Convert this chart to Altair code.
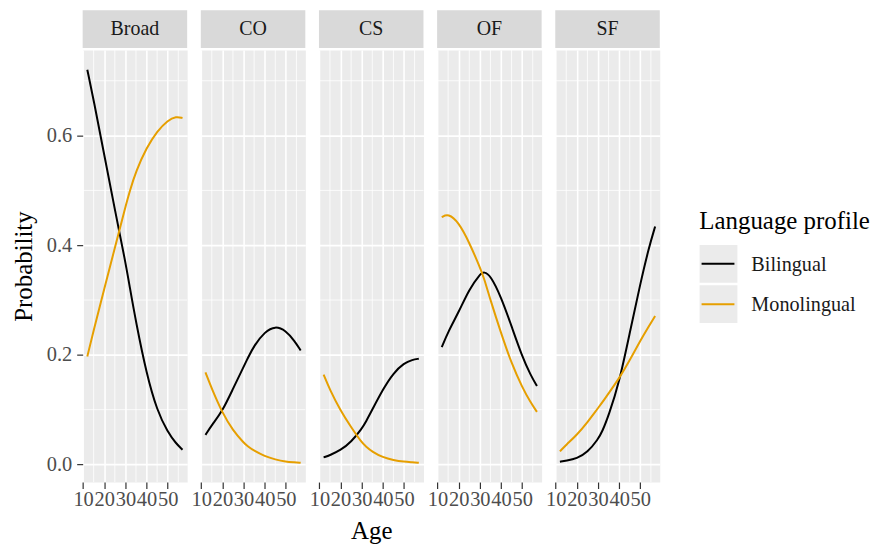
import altair as alt
import pandas as pd

# ---------------- data ----------------
panels = ["Broad", "CO", "CS", "OF", "SF"]
profiles = ["Bilingual", "Monolingual"]
colors = ["#000000", "#E69F00"]
legend_title = "Language profile"

ages = [12, 15, 20, 25, 30, 32, 35, 40, 45, 50, 54, 57]

broad_bil = [0.720, 0.665, 0.565, 0.465, 0.370, 0.325, 0.260, 0.165, 0.098, 0.059, 0.038, 0.027]
broad_mono = [0.197, 0.245, 0.320, 0.395, 0.470, 0.498, 0.535, 0.578, 0.608, 0.628, 0.635, 0.632]
co_bil = [0.054, 0.072, 0.097, 0.138, 0.178, 0.194, 0.217, 0.242, 0.253, 0.244, 0.226, 0.208]
co_mono = [0.168, 0.138, 0.094, 0.062, 0.040, 0.033, 0.025, 0.015, 0.009, 0.005, 0.004, 0.003]
cs_bil = [0.013, 0.017, 0.026, 0.041, 0.065, 0.078, 0.100, 0.137, 0.167, 0.185, 0.191, 0.193]
cs_mono = [0.164, 0.136, 0.098, 0.068, 0.040, 0.033, 0.023, 0.013, 0.008, 0.005, 0.004, 0.003]
of_bil = [0.214, 0.242, 0.278, 0.320, 0.347, 0.352, 0.345, 0.306, 0.252, 0.197, 0.163, 0.143]
of_mono = [0.451, 0.458, 0.442, 0.405, 0.360, 0.340, 0.300, 0.240, 0.184, 0.141, 0.113, 0.096]
sf_bil = [0.005, 0.007, 0.011, 0.022, 0.046, 0.060, 0.089, 0.149, 0.240, 0.330, 0.395, 0.434]
sf_mono = [0.024, 0.036, 0.054, 0.077, 0.103, 0.113, 0.130, 0.157, 0.190, 0.226, 0.252, 0.271]

series = {
    ("Broad", "Bilingual"): broad_bil, ("Broad", "Monolingual"): broad_mono,
    ("CO", "Bilingual"): co_bil, ("CO", "Monolingual"): co_mono,
    ("CS", "Bilingual"): cs_bil, ("CS", "Monolingual"): cs_mono,
    ("OF", "Bilingual"): of_bil, ("OF", "Monolingual"): of_mono,
    ("SF", "Bilingual"): sf_bil, ("SF", "Monolingual"): sf_mono,
}

x_ticks = [10, 20, 30, 40, 50]
x_minor = [15, 25, 35, 45, 55]
y_ticks = [0.0, 0.2, 0.4, 0.6]
y_minor = [0.1, 0.3, 0.5, 0.7]

rows = []
for (p, prof), vals in series.items():
    for a, v in zip(ages, vals):
        rows.append({"panel": p, "profile": prof, "age": a, "prob": v})
df = pd.DataFrame(rows)

# ---------------- style ----------------
FONT = "Liberation Serif"
W, H = 105, 434
XDOM = [9.8, 59.2]
YDOM = [-0.032, 0.756]
PANEL_BG = "#EBEBEB"
STRIP_BG = "#D9D9D9"

color_enc = alt.Color("profile:N", scale=alt.Scale(domain=profiles, range=colors), legend=None)


def make_panel(name, first):
    xs = alt.Scale(domain=XDOM, nice=False, zero=False)
    ys = alt.Scale(domain=YDOM, nice=False, zero=False)
    x_axis = alt.Axis(
        values=x_ticks, grid=True, gridColor="white", gridWidth=1.6,
        domain=False, tickColor="#333333", tickSize=6.5, tickWidth=1.2,
        labelFont=FONT, labelFontSize=20.5, labelColor="#4D4D4D",
        labelPadding=1, labelOverlap=False, labelFlush=False,
        title="Age" if name == "CS" else None,
        titleFont=FONT, titleFontSize=25, titleFontWeight="normal",
        titleColor="#000000", titlePadding=9,
    )
    if first:
        y_axis = alt.Axis(
            values=y_ticks, format=".1f", grid=True, gridColor="white", gridWidth=1.6,
            domain=False, tickColor="#333333", tickSize=6, tickWidth=1.2,
            labelFont=FONT, labelFontSize=20.5, labelColor="#4D4D4D", labelPadding=5,
            title="Probability", titleFont=FONT, titleFontSize=25,
            titleFontWeight="normal", titleColor="#000000", titlePadding=10,
        )
    else:
        y_axis = alt.Axis(
            values=y_ticks, grid=True, gridColor="white", gridWidth=1.6,
            domain=False, ticks=False, labels=False, title=None,
        )

    minor_x = alt.Chart(pd.DataFrame({"age": x_minor})).mark_rule(
        color="white", strokeWidth=0.8
    ).encode(x=alt.X("age:Q", scale=xs, axis=x_axis))
    minor_y = alt.Chart(pd.DataFrame({"prob": y_minor})).mark_rule(
        color="white", strokeWidth=0.8
    ).encode(y=alt.Y("prob:Q", scale=ys, axis=y_axis))

    lines = alt.Chart(df[df["panel"] == name]).mark_line(
        strokeWidth=2, interpolate="basis"
    ).encode(
        x=alt.X("age:Q", scale=xs, axis=x_axis),
        y=alt.Y("prob:Q", scale=ys, axis=y_axis),
        color=color_enc,
        detail="profile:N",
    )

    strip_df = pd.DataFrame({"panel": [name]})
    strip = alt.Chart(strip_df).mark_rect(color=STRIP_BG).encode(
        x=alt.value(0), x2=alt.value(W), y=alt.value(-40), y2=alt.value(-2)
    )
    strip_text = alt.Chart(strip_df).mark_text(
        font=FONT, fontSize=20, color="#1A1A1A", baseline="middle", align="center"
    ).encode(text="panel:N", x=alt.value(W / 2), y=alt.value(-21))

    return alt.layer(minor_x, minor_y, lines, strip, strip_text).properties(
        width=W, height=H,
        view=alt.ViewBackground(fill=PANEL_BG, stroke="transparent"),
    )


panel_charts = [make_panel(p, i == 0) for i, p in enumerate(panels)]

# ---------------- legend panel ----------------
leg_df = pd.DataFrame({"profile": profiles})
leg_y = alt.Scale(type="point", domain=profiles, range=[214.8, 255.3], padding=0)

keys = alt.Chart(leg_df).mark_square(size=1444, color=PANEL_BG, opacity=1).encode(
    x=alt.value(45.3), y=alt.Y("profile:N", scale=leg_y, axis=None)
)
key_lines = alt.Chart(leg_df).mark_rule(strokeWidth=2).encode(
    x=alt.value(28.3), x2=alt.value(61.3),
    y=alt.Y("profile:N", scale=leg_y, axis=None),
    color=color_enc,
)
key_labels = alt.Chart(leg_df).mark_text(
    align="left", baseline="alphabetic", dy=7, font=FONT, fontSize=20.3, color="#1A1A1A"
).encode(x=alt.value(78.3), y=alt.Y("profile:N", scale=leg_y, axis=None), text="profile:N")
key_title = alt.Chart(pd.DataFrame({"t": [legend_title]})).mark_text(
    align="left", baseline="alphabetic", font=FONT, fontSize=25, color="#000000"
).encode(x=alt.value(26), y=alt.value(179.8), text="t:N")

legend_chart = alt.layer(keys, key_lines, key_labels, key_title).properties(
    width=190, height=H,
    view=alt.ViewBackground(fill="white", stroke="transparent"),
)

chart = alt.hconcat(
    *panel_charts, legend_chart, spacing=13.7, bounds="flush"
).resolve_scale(
    x="independent", y="independent", color="shared"
).properties(
    padding={"left": 2, "top": 0, "right": 0, "bottom": 0}
).configure(
    font=FONT
).configure_view(
    stroke="transparent"
)

chart.save("out.html", embed_options={"renderer": "svg", "actions": False})
